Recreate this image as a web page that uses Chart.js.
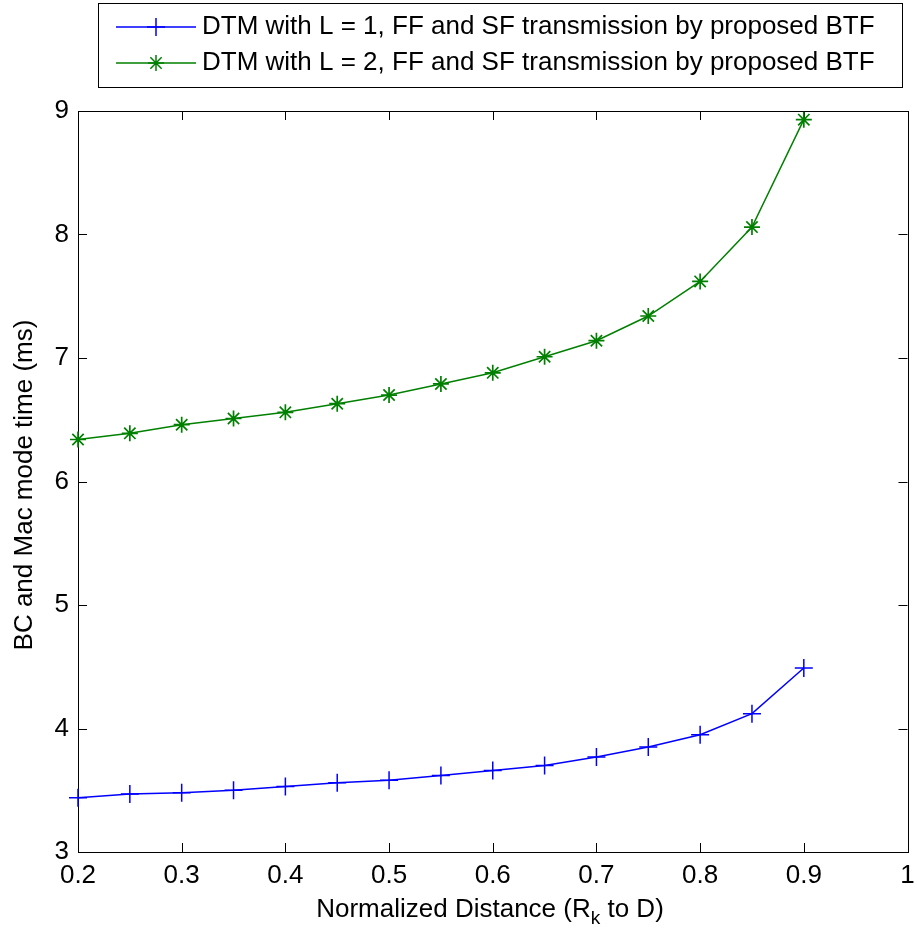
<!DOCTYPE html>
<html>
<head>
<meta charset="utf-8">
<script src="https://cdn.jsdelivr.net/npm/chart.js@4.4.1/dist/chart.umd.min.js"></script>
<style>
  html, body { margin: 0; padding: 0; background: #fff; }
</style>
</head>
<body>
<canvas id="myChart" width="918" height="932"></canvas>
<script>
const ctx = document.getElementById("myChart");

// normalized distance (R_k to D)
const distances = [0.2, 0.25, 0.3, 0.35, 0.4, 0.45, 0.5, 0.55, 0.6, 0.65, 0.7, 0.75, 0.8, 0.85, 0.9];
// BC and Mac mode time (ms)
const timeL1 = [3.44, 3.47, 3.48, 3.50, 3.53, 3.56, 3.58, 3.62, 3.66, 3.70, 3.77, 3.85, 3.95, 4.12, 4.49];
const timeL2 = [6.34, 6.39, 6.46, 6.51, 6.56, 6.63, 6.70, 6.79, 6.88, 7.01, 7.14, 7.34, 7.62, 8.06, 8.93];
const seriesLabels = [
  "DTM with L = 1, FF and SF transmission by proposed BTF",
  "DTM with L = 2, FF and SF transmission by proposed BTF"
];
const xTickValues = [0.2, 0.3, 0.4, 0.5, 0.6, 0.7, 0.8, 0.9, 1];
const yTickValues = [3, 4, 5, 6, 7, 8, 9];

const FONT = '"Liberation Sans", Arial, sans-serif';
const FSIZE = 26;

function toPoints(ys) {
  return distances.map((d, i) => ({ x: d, y: ys[i] }));
}

// box around the axes, inward ticks on all four sides, axis titles and legend
const matlabAxes = {
  id: "matlabAxes",
  beforeDatasetsDraw(chart) {
    const c = chart.ctx;
    const a = chart.chartArea;
    const xs = chart.scales.x;
    const ys = chart.scales.y;
    const len = 9;
    c.save();
    c.strokeStyle = "#000";
    c.lineWidth = 1;
    c.strokeRect(Math.round(a.left) + 0.5, Math.round(a.top) + 0.5,
      Math.round(a.right - a.left), Math.round(a.bottom - a.top));
    c.beginPath();
    xTickValues.forEach(v => {
      const px = Math.round(xs.getPixelForValue(v)) + 0.5;
      c.moveTo(px, a.bottom); c.lineTo(px, a.bottom - len);
      c.moveTo(px, a.top); c.lineTo(px, a.top + len);
    });
    yTickValues.forEach(v => {
      const py = Math.round(ys.getPixelForValue(v)) + 0.5;
      c.moveTo(a.left, py); c.lineTo(a.left + len, py);
      c.moveTo(a.right, py); c.lineTo(a.right - len, py);
    });
    c.stroke();
    c.restore();
  },
  afterDraw(chart) {
    const c = chart.ctx;
    c.save();
    c.fillStyle = "#000";
    // x title with subscript k
    const big = FSIZE + "px " + FONT, small = "19px " + FONT;
    c.textBaseline = "alphabetic";
    const p1 = "Normalized Distance (R", p2 = "k", p3 = " to D)";
    c.font = big;
    const w1 = c.measureText(p1).width;
    const w3 = c.measureText(p3).width;
    c.font = small;
    const w2 = c.measureText(p2).width;
    const x0 = 490 - (w1 + w2 + w3) / 2;
    const base = 917;
    c.textAlign = "left";
    c.font = big;
    c.fillText(p1, x0, base);
    c.font = small;
    c.fillText(p2, x0 + w1, base + 7);
    c.font = big;
    c.fillText(p3, x0 + w1 + w2, base);
    // y title
    c.translate(25, 485);
    c.rotate(-Math.PI / 2);
    c.textAlign = "center";
    c.textBaseline = "middle";
    c.fillText("BC and Mac mode time (ms)", 0, 0);
    c.restore();

    // legend box
    c.save();
    c.fillStyle = "#fff";
    c.fillRect(98, 3, 804, 84);
    c.strokeStyle = "#000";
    c.lineWidth = 1;
    c.strokeRect(98.5, 3.5, 804, 84);
    chart.data.datasets.forEach((ds, i) => {
      const y = 27 + i * 36;
      c.strokeStyle = ds.borderColor;
      c.lineWidth = 1.5;
      c.beginPath();
      c.moveTo(116, y); c.lineTo(196, y);
      c.stroke();
      Chart.helpers.drawPoint(c, {
        pointStyle: ds.pointStyle,
        radius: ds.pointRadius,
        borderWidth: ds.pointBorderWidth,
        rotation: 0
      }, 156, y);
      c.fillStyle = "#000";
      c.font = FSIZE + "px " + FONT;
      c.textAlign = "left";
      c.textBaseline = "middle";
      c.fillText(ds.label, 202, y);
    });
    c.restore();
  }
};

const graphic = new Chart(ctx, {
  type: "line",
  data: {
    datasets: [
      {
        label: seriesLabels[0],
        data: toPoints(timeL1),
        borderColor: "#0000ff",
        backgroundColor: "#0000ff",
        borderWidth: 1.5,
        pointStyle: "cross",
        pointRadius: 9,
        pointBorderWidth: 1.5,
        pointHoverRadius: 9,
        fill: false,
        tension: 0,
        clip: false
      },
      {
        label: seriesLabels[1],
        data: toPoints(timeL2),
        borderColor: "#008000",
        backgroundColor: "#008000",
        borderWidth: 1.5,
        pointStyle: "star",
        pointRadius: 8,
        pointBorderWidth: 1.7,
        pointHoverRadius: 8,
        fill: false,
        tension: 0,
        clip: false
      }
    ]
  },
  options: {
    responsive: false,
    animation: false,
    devicePixelRatio: 1,
    layout: { padding: { top: 111, right: 9, left: 0, bottom: 0 } },
    plugins: {
      legend: { display: false },
      tooltip: { enabled: false },
      title: { display: false }
    },
    scales: {
      x: {
        type: "linear",
        min: 0.2,
        max: 1,
        afterFit(scale) {
          scale.height = 80;
          scale.paddingLeft = 0;
          scale.paddingRight = 0;
        },
        afterBuildTicks(scale) { scale.ticks = xTickValues.map(v => ({ value: v })); },
        grid: { display: false, drawTicks: false },
        border: { display: false },
        ticks: {
          color: "#000",
          padding: 8,
          autoSkip: false,
          maxRotation: 0,
          font: { family: FONT, size: FSIZE },
          callback: v => String(v)
        }
      },
      y: {
        min: 3,
        max: 9,
        afterFit(scale) {
          scale.width = 78;
          scale.paddingTop = 0;
          scale.paddingBottom = 0;
        },
        afterBuildTicks(scale) { scale.ticks = yTickValues.map(v => ({ value: v })); },
        grid: { display: false, drawTicks: false },
        border: { display: false },
        ticks: {
          color: "#000",
          padding: 9,
          font: { family: FONT, size: FSIZE },
          callback: v => String(v)
        }
      }
    }
  },
  plugins: [matlabAxes]
});
</script>
</body>
</html>
